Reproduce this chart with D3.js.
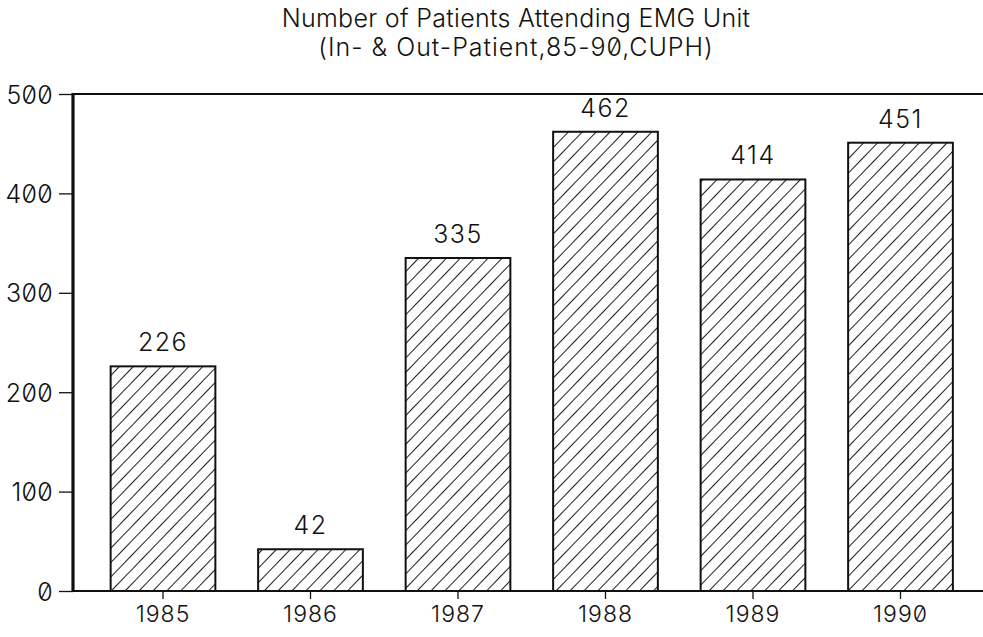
<!DOCTYPE html>
<html>
<head>
<meta charset="utf-8">
<script src="https://cdn.jsdelivr.net/npm/d3@7"></script>
<style>
  html, body { margin: 0; padding: 0; background: #fff; }
  svg text { font-family: Inter, "DejaVu Sans", sans-serif; font-variant-numeric: slashed-zero; fill: #111; }
</style>
</head>
<body>
<script>
// EMG unit attendance by year
const years = ["1985", "1986", "1987", "1988", "1989", "1990"];
const patients = [226, 42, 335, 462, 414, 451];
const yTicks = [0, 100, 200, 300, 400, 500];
const titleLines = ["Number of Patients Attending EMG Unit", "(In- & Out-Patient,85-90,CUPH)"];

const W = 983, H = 637;
const svg = d3.select("body").append("svg").attr("width", W).attr("height", H);

const x = d3.scaleBand().domain(years).range([89.25, 974.25]).paddingInner(0.29).paddingOuter(0.145);
const y = d3.scaleLinear().domain([0, 500]).range([591, 94]);

// diagonal hatch fill
const defs = svg.append("defs");
const pat = defs.append("pattern")
  .attr("id", "hatch").attr("patternUnits", "userSpaceOnUse")
  .attr("width", 10).attr("height", 10)
  .attr("patternTransform", "rotate(44)");
pat.append("line").attr("x1", 0).attr("y1", 0).attr("x2", 0).attr("y2", 10)
  .attr("stroke", "#111").attr("stroke-width", 1.9);

// title
svg.selectAll("text.title").data(titleLines).join("text")
  .attr("class", "title")
  .attr("x", 516).attr("y", (d, i) => 27 + i * 29)
  .attr("text-anchor", "middle")
  .style("font-size", "25px").style("font-weight", 300)
  .style("letter-spacing", (d, i) => i ? "1px" : "0.3px")
  .text(d => d);

// bars
svg.selectAll("rect.bar").data(patients).join("rect")
  .attr("class", "bar")
  .attr("x", (d, i) => x(years[i]))
  .attr("y", d => y(d))
  .attr("width", x.bandwidth())
  .attr("height", d => y(0) - y(d))
  .attr("fill", "url(#hatch)")
  .attr("stroke", "#111").attr("stroke-width", 2);

// value labels
svg.selectAll("text.val").data(patients).join("text")
  .attr("class", "val")
  .attr("x", (d, i) => x(years[i]) + x.bandwidth() / 2)
  .attr("y", d => y(d) - 15)
  .attr("text-anchor", "middle")
  .style("font-size", "25px").style("font-weight", 300)
  .style("letter-spacing", "1.5px")
  .text(d => d);

// frame lines: top and baseline run to the right edge
svg.append("line").attr("x1", 72).attr("x2", W).attr("y1", y(500)).attr("y2", y(500))
  .attr("stroke", "#111").attr("stroke-width", 2.2);
svg.append("line").attr("x1", 72).attr("x2", W).attr("y1", y(0)).attr("y2", y(0))
  .attr("stroke", "#111").attr("stroke-width", 2.2);

// y axis
const yAxis = svg.append("g").attr("transform", "translate(73,0)")
  .call(d3.axisLeft(y).tickValues(yTicks).tickSize(14).tickPadding(6).tickFormat(d3.format("d")));
yAxis.select(".domain").attr("stroke", "#111").attr("stroke-width", 3.2)
  .attr("d", `M0,${y(500) - 1}V${y(0) + 1}`);
yAxis.selectAll(".tick line").attr("stroke", "#111").attr("stroke-width", 1.3);
yAxis.selectAll(".tick text").style("font-size", "25px").style("font-weight", 300)
  .style("letter-spacing", "0.3px")
  .attr("dy", "0.36em").attr("fill", "#111");

// x axis
const xAxis = svg.append("g").attr("transform", `translate(0,${y(0)})`)
  .call(d3.axisBottom(x).tickSize(8).tickPadding(7));
xAxis.select(".domain").remove();
xAxis.selectAll(".tick line").attr("stroke", "#111").attr("stroke-width", 1.3);
xAxis.selectAll(".tick text").style("font-size", "23px").style("font-weight", 300)
  .style("letter-spacing", "1px")
  .attr("fill", "#111");
</script>
</body>
</html>
